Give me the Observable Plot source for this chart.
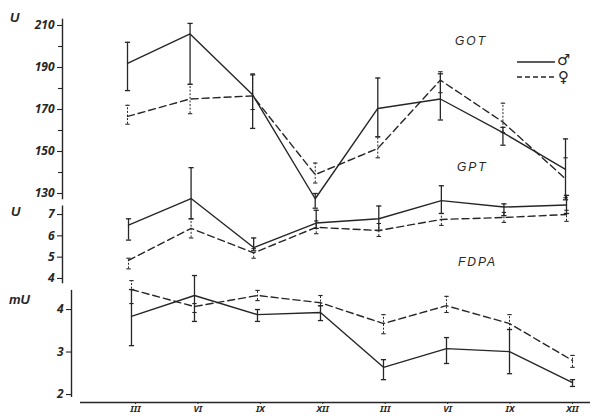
<!DOCTYPE html>
<html><head><meta charset="utf-8">
<script src="https://cdn.jsdelivr.net/npm/d3@7"></script>
<script src="https://cdn.jsdelivr.net/npm/@observablehq/plot@0.6"></script>
<style>
body{margin:0;background:#fff;}
#chart{position:relative;width:591px;height:416px;overflow:hidden;font-family:"Liberation Sans",Arial,sans-serif;color:#262626;background:#fff;}
#chart svg.pl{position:absolute;left:0;top:0;}
.lbl{position:absolute;font-style:italic;white-space:nowrap;line-height:1;}
</style></head><body><div id="chart"></div>
<script>
// x categories (months)
const months = ["III","VI","IX","XII","III","VI","IX","XII"];

// GOT (U)
const gotMale     = [192, 206, 177, 127.5, 170.5, 175, 159, 141.5];
const gotMaleHi   = [202, 211, 186.5, 130, 185, 187, 161.5, 156];
const gotMaleLo   = [179, 182, 161, 123, 157, 165, 153, 127];
const gotFemale   = [166.7, 175, 176.5, 139, 151.5, 184, 164, 137];
const gotFemaleHi = [172, 182, 187, 144.5, 157, 188, 173, 147];
const gotFemaleLo = [163, 168, 170, 135, 147, 178, 159, 128];
const gotTicks = [130, 150, 170, 190, 210];
const gotMinor = [140, 160, 180, 200];

// GPT (U)
const gptMale     = [6.5, 7.75, 5.45, 6.6, 6.8, 7.65, 7.35, 7.45];
const gptMaleHi   = [6.8, 9.2, 5.9, 7.2, 7.4, 8.35, 7.5, 7.9];
const gptMaleLo   = [5.8, 6.8, 5.3, 6.35, 6.25, 7.05, 6.95, 7.05];
const gptFemale   = [4.85, 6.35, 5.2, 6.4, 6.25, 6.77, 6.86, 7.0];
const gptFemaleHi = [4.95, 6.8, 5.4, 6.7, 6.58, 7.05, 7.1, 7.2];
const gptFemaleLo = [4.45, 5.9, 4.95, 6.1, 5.97, 6.49, 6.63, 6.68];
const gptTicks = [4, 5, 6, 7];

// FDPA (mU)
const fdpaMale     = [3.84, 4.33, 3.88, 3.93, 2.64, 3.08, 3.01, 2.28];
const fdpaMaleHi   = [4.47, 4.8, 4.0, 4.09, 2.82, 3.34, 3.53, 2.35];
const fdpaMaleLo   = [3.15, 3.72, 3.72, 3.74, 2.35, 2.73, 2.49, 2.19];
const fdpaFemale   = [4.47, 4.07, 4.33, 4.16, 3.67, 4.09, 3.67, 2.8];
const fdpaFemaleHi = [4.68, 4.14, 4.45, 4.33, 3.88, 4.31, 3.88, 2.92];
const fdpaFemaleLo = [4.14, 3.93, 4.21, 4.09, 3.43, 3.93, 3.53, 2.64];
const fdpaTicks = [2, 3, 4];

const ink = "#262626";
const W = 591, H = 416;
const chart = document.getElementById("chart");

const cap = {draw(ctx, size){ const r = Math.sqrt(size/Math.PI); ctx.moveTo(-r,0); ctx.lineTo(r,0); }};

function rows(m, mh, ml, f, fh, fl){
  return months.map((mo, i) => ({i, mo, m: m[i], mh: mh[i], ml: ml[i], f: f[i], fh: fh[i], fl: fl[i]}));
}

function panel(o){
  const data = o.data;
  const p = Plot.plot({
    width: W, height: H,
    marginTop: o.mt, marginBottom: o.mb, marginLeft: o.ml, marginRight: o.mr,
    x: {type: "linear", domain: o.xd, axis: null},
    y: {type: "linear", domain: o.yd},
    style: {background: "transparent", color: ink, overflow: "visible"},
    marks: [
      Plot.ruleX([o.xd[0]], {y1: o.yd[0], y2: o.yd[1], stroke: ink, strokeWidth: 1.4}),
      Plot.axisY(o.ticks, {tickSize: 5, tickPadding: 3, fontSize: 12, fontStyle: "italic", fontWeight: "bold", fill: ink, stroke: ink, strokeWidth: 1.1, label: null}),
      ...(o.minor ? [Plot.axisY(o.minor, {tickSize: 4, tickFormat: () => "", stroke: ink, strokeWidth: 1.1, label: null})] : []),
      // female error bars (dashed)
      Plot.ruleX(data, {x: "i", y1: "fl", y2: "fh", stroke: ink, strokeWidth: 1, strokeDasharray: "2,1.6"}),
      Plot.dot(data, {x: "i", y: "fh", symbol: cap, r: 2.2, stroke: ink, strokeWidth: 1.1, fill: "none"}),
      Plot.dot(data, {x: "i", y: "fl", symbol: cap, r: 2.2, stroke: ink, strokeWidth: 1.1, fill: "none"}),
      // male error bars (solid)
      Plot.ruleX(data, {x: "i", y1: "ml", y2: "mh", stroke: ink, strokeWidth: 1.3}),
      Plot.dot(data, {x: "i", y: "mh", symbol: cap, r: 2.6, stroke: ink, strokeWidth: 1.3, fill: "none"}),
      Plot.dot(data, {x: "i", y: "ml", symbol: cap, r: 2.6, stroke: ink, strokeWidth: 1.3, fill: "none"}),
      // lines
      Plot.line(data, {x: "i", y: "f", stroke: ink, strokeWidth: 1.4, strokeDasharray: "7,4"}),
      Plot.line(data, {x: "i", y: "m", stroke: ink, strokeWidth: 1.4})
    ]
  });
  p.classList.add("pl");
  chart.appendChild(p);
}

// GOT panel
panel({data: rows(gotMale, gotMaleHi, gotMaleLo, gotFemale, gotFemaleHi, gotFemaleLo),
  xd: [-1.039, 7], yd: [127, 213], ticks: gotTicks, minor: gotMinor,
  mt: 18.7, mb: 216.7, ml: 62, mr: 26});
// GPT panel
panel({data: rows(gptMale, gptMaleHi, gptMaleLo, gptFemale, gptFemaleHi, gptFemaleLo),
  xd: [-1.055, 7], yd: [3.75, 7.4], ticks: gptTicks,
  mt: 205.5, mb: 132.7, ml: 62, mr: 25});
// FDPA panel
panel({data: rows(fdpaMale, fdpaMaleHi, fdpaMaleLo, fdpaFemale, fdpaFemaleHi, fdpaFemaleLo),
  xd: [-0.952, 7], yd: [1.93, 4.45], ticks: fdpaTicks,
  mt: 289.9, mb: 19, ml: 71, mr: 19});

// shared month axis
const xa = Plot.plot({
  width: W, height: H,
  marginTop: 390, marginBottom: 14, marginLeft: 80, marginRight: 1,
  x: {type: "linear", domain: [-0.881, 7.288]},
  y: {domain: [0, 1], axis: null},
  style: {background: "transparent", color: ink, overflow: "visible"},
  marks: [
    Plot.ruleY([0], {stroke: ink, strokeWidth: 1.4}),
    Plot.axisX(d3.range(months.length), {tickFormat: i => months[i], tickSize: 2, tickPadding: 1, fontSize: 9, fontStyle: "italic", fontWeight: "bold", fill: ink, stroke: ink, label: null})
  ]
});
xa.classList.add("pl");
chart.appendChild(xa);

// labels
function lbl(t, x, y, size, extra){
  const d = document.createElement("div");
  d.className = "lbl"; d.textContent = t;
  d.style.left = x + "px"; d.style.top = y + "px"; d.style.fontSize = size + "px";
  if (extra) Object.assign(d.style, extra);
  chart.appendChild(d);
}
lbl("U", 10, 11, 13, {fontWeight: "bold"});
lbl("U", 11, 205, 13, {fontWeight: "bold"});
lbl("mU", 9, 293, 13, {fontWeight: "bold"});
lbl("GOT", 455, 35, 12, {letterSpacing: "2px"});
lbl("GPT", 457, 161, 12, {letterSpacing: "2px"});
lbl("FDPA", 458, 256, 12, {letterSpacing: "2px"});

// legend
const ns = "http://www.w3.org/2000/svg";
const lg = document.createElementNS(ns, "svg");
lg.setAttribute("width", 40); lg.setAttribute("height", 30);
lg.style.position = "absolute"; lg.style.left = "516px"; lg.style.top = "55px";
[[7, null], [22, "5,3"]].forEach(([y, dash]) => {
  const l = document.createElementNS(ns, "line");
  l.setAttribute("x1", 1); l.setAttribute("x2", 39); l.setAttribute("y1", y); l.setAttribute("y2", y);
  l.setAttribute("stroke", ink); l.setAttribute("stroke-width", 1.3);
  if (dash) l.setAttribute("stroke-dasharray", dash);
  lg.appendChild(l);
});
chart.appendChild(lg);
lbl("♂", 557, 53, 15, {fontFamily: "'DejaVu Sans', sans-serif", fontStyle: "normal", fontWeight: "bold"});
lbl("♀", 558, 70, 15, {fontFamily: "'DejaVu Sans', sans-serif", fontStyle: "normal", fontWeight: "bold"});
</script></body></html>
